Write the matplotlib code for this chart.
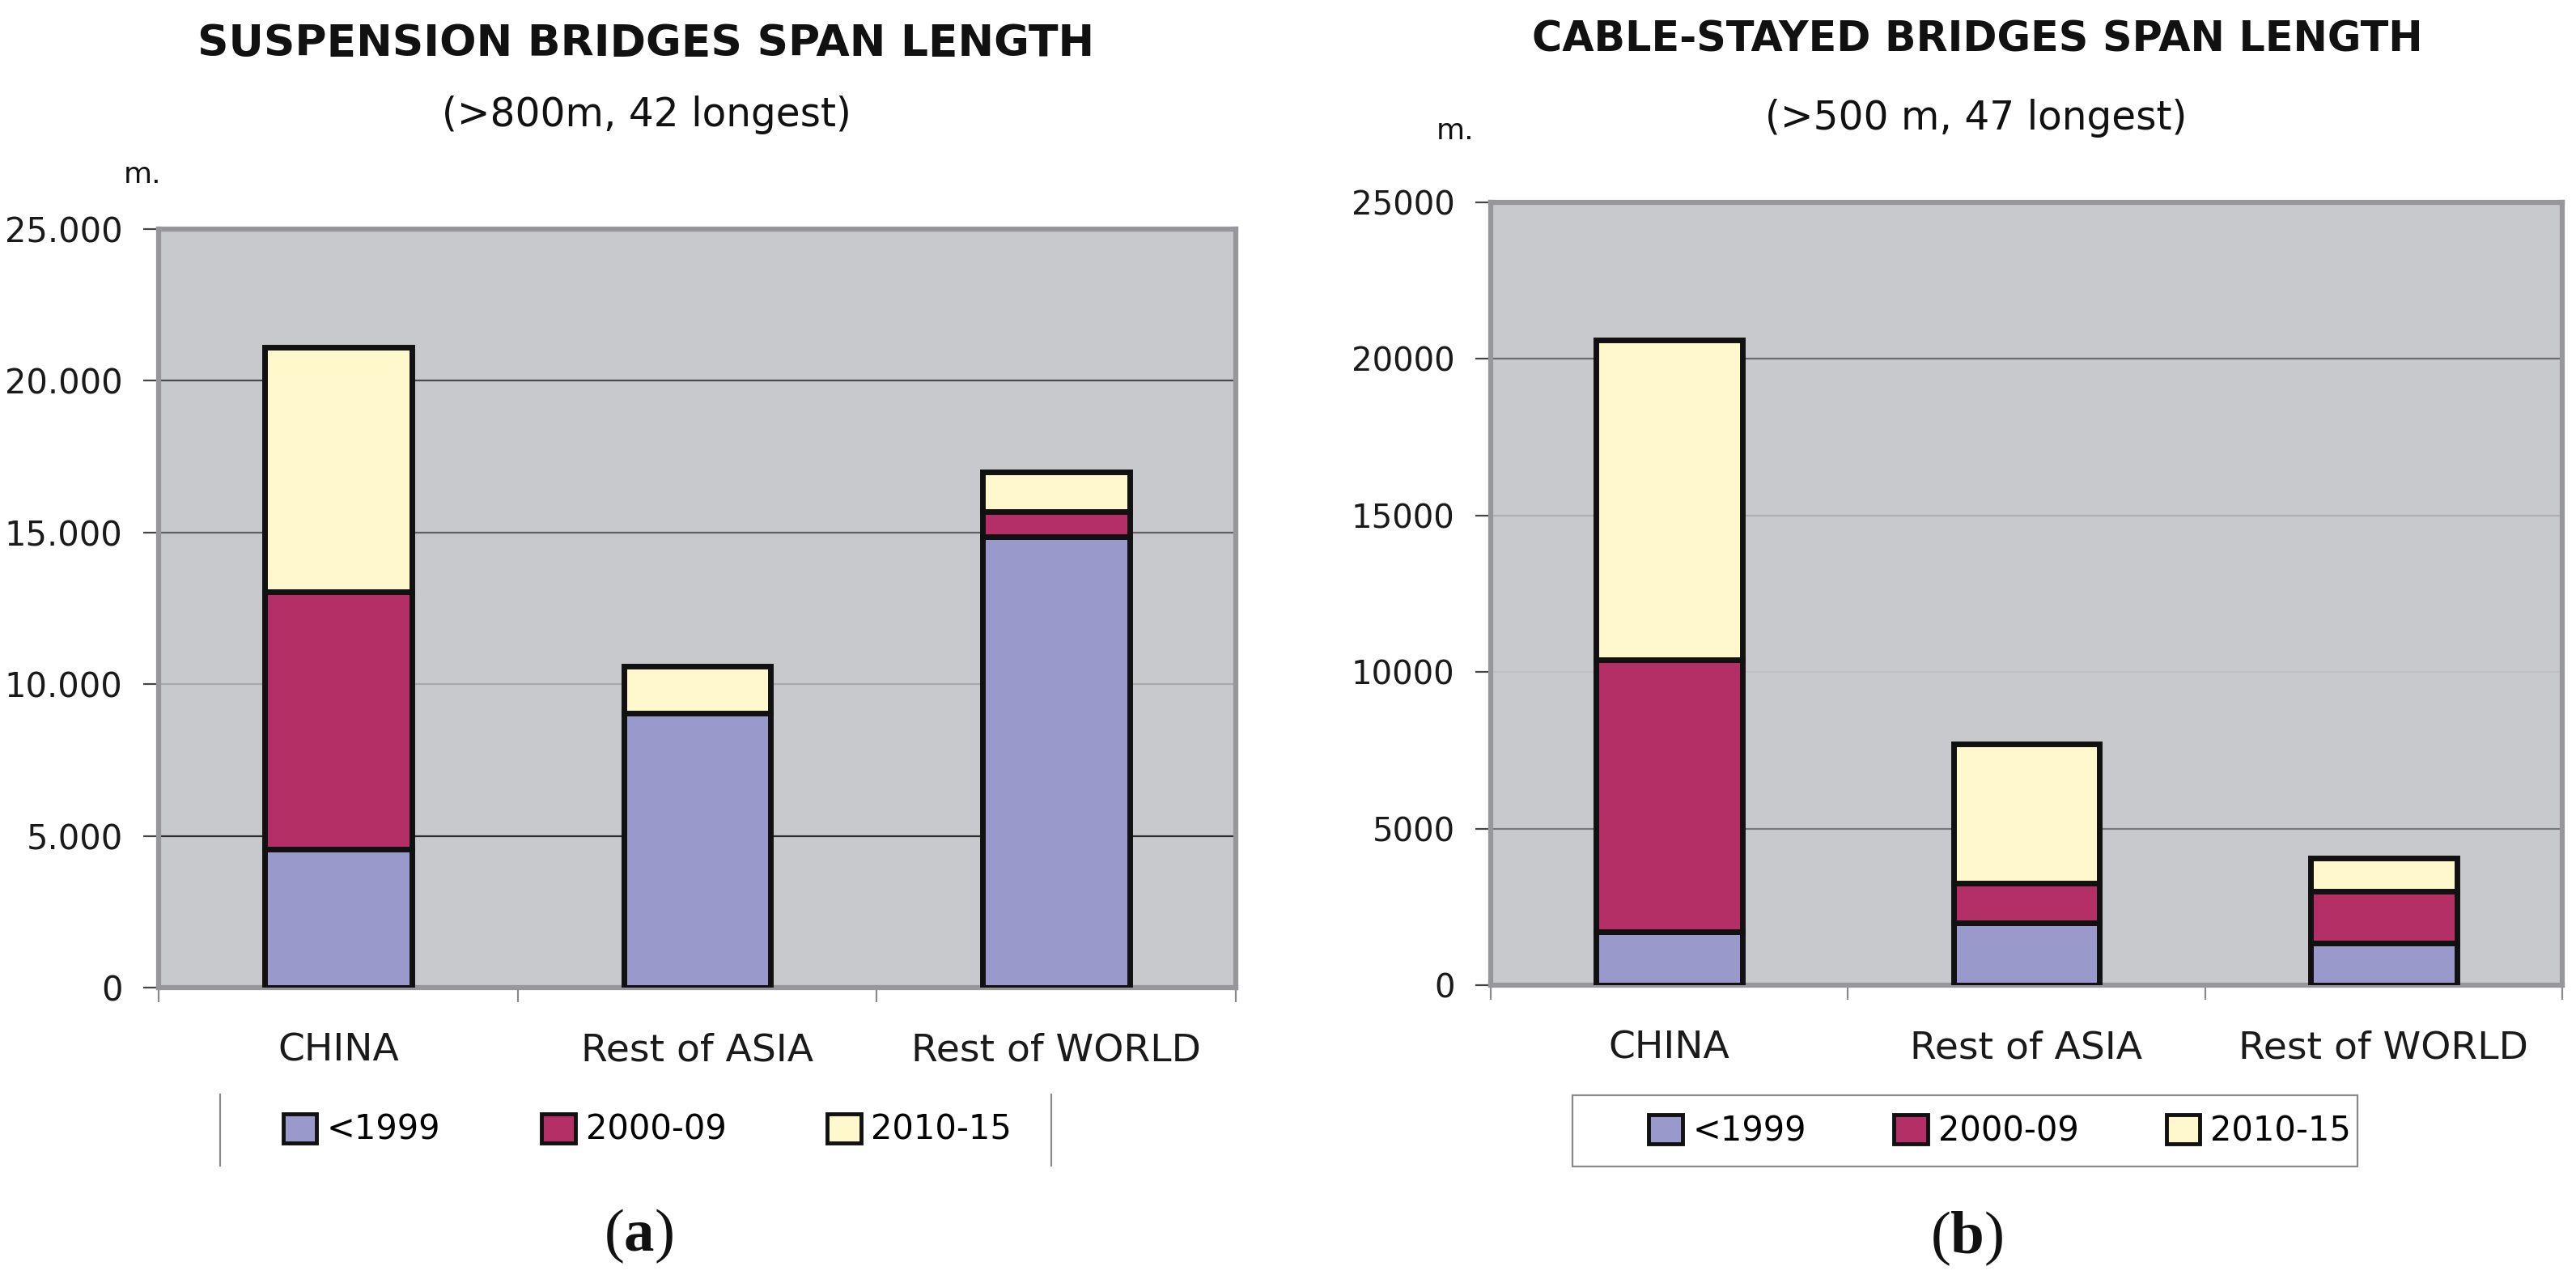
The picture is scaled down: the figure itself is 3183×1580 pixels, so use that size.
import matplotlib
matplotlib.use("Agg")
import matplotlib.pyplot as plt
import numpy as np
from matplotlib.ticker import FuncFormatter, FixedLocator
from matplotlib.lines import Line2D
from matplotlib.patches import Rectangle

plt.rcParams['font.family'] = ['DejaVu Sans']
plt.rcParams['mathtext.fontset'] = 'custom'
plt.rcParams['mathtext.rm'] = 'Liberation Serif'
plt.rcParams['mathtext.bf'] = 'Liberation Serif:bold'

# ---------------- data ----------------
categories = ["CHINA", "Rest of ASIA", "Rest of WORLD"]
periods = ["<1999", "2000-09", "2010-15"]

susp_pre1999 = [4550, 9050, 14850]
susp_2000_09 = [8500, 0, 850]
susp_2010_15 = [8050, 1550, 1300]

cable_pre1999 = [1700, 2000, 1350]
cable_2000_09 = [8700, 1250, 1650]
cable_2010_15 = [10200, 4450, 1050]

yticks = [0, 5000, 10000, 15000, 20000, 25000]

colors = ["#9999cc", "#b32f66", "#fff8cc"]

W, H = 3183, 1580
fig = plt.figure(figsize=(W / 100, H / 100), dpi=100)
fig.patch.set_facecolor("white")


def fx(x):
    return x / W


def fy(y):
    return 1 - y / H


def make_axes(x0, y0, x1, y1):
    return fig.add_axes([fx(x0), fy(y1), fx(x1) - fx(x0), fy(y0) - fy(y1)])


def draw_panel(ax, series, fmt, grid_colors, tick_fs):
    x = np.arange(len(categories))
    bottom = np.zeros(len(categories))
    conts = []
    for vals, col, lab in zip(series, colors, periods):
        vals = np.array(vals, dtype=float)
        c = ax.bar(x, vals, width=0.41, bottom=bottom, color=col,
                   edgecolor="#111111", linewidth=5, label=lab, zorder=3)
        conts.append(c)
        bottom += vals
    ax.set_xlim(-0.5, len(categories) - 0.5)
    ax.set_ylim(0, 25000)
    ax.set_facecolor("#c8c9cc")
    for s in ax.spines.values():
        s.set_color("#97979b")
        s.set_linewidth(4.5)
    ax.yaxis.set_major_locator(FixedLocator(yticks))
    ax.yaxis.set_major_formatter(FuncFormatter(fmt))
    ax.tick_params(axis="y", length=14, width=1.6, color="#444444",
                   pad=18, labelsize=tick_fs, labelcolor="#1a1a1a")
    ax.set_xticks(x)
    ax.set_xticklabels(categories)
    ax.tick_params(axis="x", which="major", length=0, pad=40,
                   labelsize=34, labelcolor="#1a1a1a")
    ax.set_xticks(np.arange(len(categories) + 1) - 0.5, minor=True)
    ax.tick_params(axis="x", which="minor", length=13, width=1.6,
                   color="#8a8a8a")
    for v, gc in zip(yticks[1:-1], grid_colors):
        ax.axhline(v, color=gc, linewidth=1.6, zorder=1)
    return conts


# ---------------- left panel ----------------
axL = make_axes(196, 283, 1527, 1220)
contsL = draw_panel(axL, [susp_pre1999, susp_2000_09, susp_2010_15],
                    lambda v, p: f"{int(v):,}".replace(",", "."),
                    ["#2e2e2e", "#a8a8aa", "#606060", "#4a4a4a"], 30)

fig.text(fx(798), fy(69), "SUSPENSION BRIDGES SPAN LENGTH", ha="center",
         va="baseline", fontsize=38.5, fontweight="bold", color="#111111")
fig.text(fx(799), fy(156), "(>800m, 42 longest)", ha="center",
         va="baseline", fontsize=35, color="#111111")
fig.text(fx(176), fy(226), "m.", ha="center", va="baseline",
         fontsize=26, color="#111111")

legL = fig.legend(handles=contsL, labels=periods, loc="center",
                  bbox_to_anchor=(fx(800), fy(1396)), ncol=3, frameon=False,
                  fontsize=30, handlelength=1.0, handleheight=0.95,
                  handletextpad=0.3, columnspacing=3.0)
for h in legL.legend_handles:
    h.set_linewidth(3.5)
for xl in (272, 1299):
    fig.add_artist(Line2D([fx(xl), fx(xl)], [fy(1352), fy(1440)],
                          color="#8a8a8a", linewidth=1.6))

fig.text(fx(789), fy(1545), r"$\mathrm{(}\mathbf{a}\mathrm{)}$",
         ha="center", va="baseline", fontsize=54, color="#111111")

# ---------------- right panel ----------------
axR = make_axes(1842, 250, 3166, 1217)
contsR = draw_panel(axR, [cable_pre1999, cable_2000_09, cable_2010_15],
                    lambda v, p: f"{int(v)}",
                    ["#7a7a7a", "#c0c0c2", "#b0b0b2", "#6a6a6a"], 29)

fig.text(fx(2443), fy(64), "CABLE-STAYED BRIDGES SPAN LENGTH", ha="center",
         va="baseline", fontsize=36.5, fontweight="bold", color="#111111")
fig.text(fx(2442), fy(160), "(>500 m, 47 longest)", ha="center",
         va="baseline", fontsize=35, color="#111111")
fig.text(fx(1798), fy(172), "m.", ha="center", va="baseline",
         fontsize=26, color="#111111")

legR = fig.legend(handles=contsR, labels=periods, loc="center",
                  bbox_to_anchor=(fx(2471), fy(1397)), ncol=3, frameon=False,
                  fontsize=30, handlelength=1.0, handleheight=0.95,
                  handletextpad=0.3, columnspacing=2.6)
for h in legR.legend_handles:
    h.set_linewidth(3.5)
fig.add_artist(Rectangle((fx(1943), fy(1441)), fx(2913) - fx(1943),
                         fy(1353) - fy(1441), transform=fig.transFigure,
                         fill=False, edgecolor="#8a8a8a", linewidth=1.6))

fig.text(fx(2430), fy(1548), r"$\mathrm{(}\mathbf{b}\mathrm{)}$",
         ha="center", va="baseline", fontsize=54, color="#111111")

fig.savefig("out.png", dpi=100)
